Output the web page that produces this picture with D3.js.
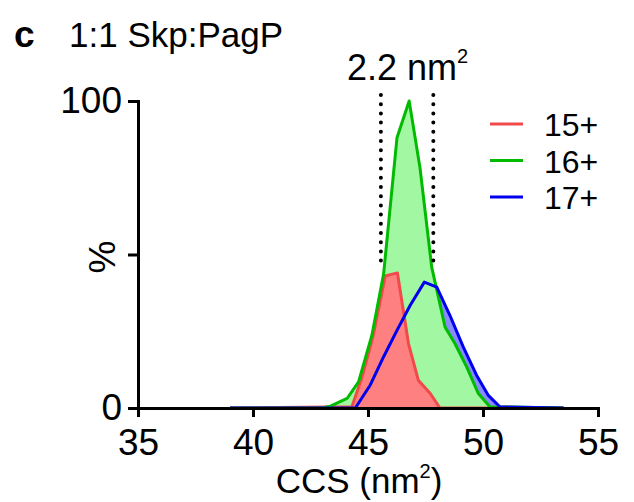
<!DOCTYPE html>
<html>
<head>
<meta charset="utf-8">
<script src="https://cdn.jsdelivr.net/npm/d3@7"></script>
<style>
  body { margin: 0; background: #fff; }
  svg text { font-family: "Liberation Sans", Arial, sans-serif; fill: #000; }
</style>
</head>
<body>
<div id="chart"></div>
<script>
// CCS distributions for each charge state (nm^2 vs % intensity)
const ccs15 = [39.0, 44.3, 44.74, 45.24, 45.75, 46.28, 46.76, 47.19, 47.7, 48.13, 53.5];
const pct15 = [0, 0.4, 10, 24, 43, 44, 21, 9, 4.8, 0, 0];

const ccs16 = [39.0, 43.0, 43.37, 44.09, 44.59, 45.17, 45.68, 46.26, 46.79, 47.26, 47.77, 48.35, 48.78, 49.29, 49.79, 50.3, 53.5];
const pct16 = [0, 0, 0.6, 3.1, 8.5, 23.7, 43.7, 88, 100, 78.3, 45.9, 26.4, 21, 13.4, 4.8, 0.4, 0];

const ccs17 = [39.0, 44.45, 45.1, 45.68, 46.26, 46.83, 47.45, 47.99, 48.56, 49.14, 49.72, 50.22, 50.73, 53.5];
const pct17 = [0, 0, 7.5, 16.7, 25.3, 33.4, 41, 39.4, 30.2, 19.9, 10.7, 4.2, 0.4, 0];

const seriesNames = ['15+', '16+', '17+'];
const lineColors = ['#f04a4a', '#00bb00', '#0000ee'];
const fillColors = ['#ff8080', '#a2f8a2', '#8a8aff'];

const xTicks = [35, 40, 45, 50, 55];
const yTicks = [0, 50, 100];
const yTickLabels = ['0', '', '100'];

// dotted markers around the 16+ peak
const widthMarks = [45.56, 47.84];

const W = 634, H = 502;
const svg = d3.select('#chart').append('svg')
    .attr('width', W)
    .attr('height', H);

const x = d3.scaleLinear().domain([35, 55]).range([138, 598]);
const y = d3.scaleLinear().domain([0, 100]).range([408, 101]);

const series = [
    { name: seriesNames[0], pts: ccs15.map((c, i) => [c, pct15[i]]) },
    { name: seriesNames[1], pts: ccs16.map((c, i) => [c, pct16[i]]) },
    { name: seriesNames[2], pts: ccs17.map((c, i) => [c, pct17[i]]) }
];

const area = d3.area().x(d => x(d[0])).y0(y(0)).y1(d => y(d[1]));
const line = d3.line().x(d => x(d[0])).y(d => y(d[1]));

// fills: blue at the bottom, red on top
[2, 1, 0].forEach(i => {
    svg.append('path')
        .attr('d', area(series[i].pts))
        .attr('fill', fillColors[i]);
});

[0, 1, 2].forEach(i => {
    svg.append('path')
        .attr('d', line(series[i].pts))
        .attr('fill', 'none')
        .attr('stroke', lineColors[i])
        .attr('stroke-width', 3)
        .attr('stroke-linejoin', 'round');
});

// dotted width lines
widthMarks.forEach(v => {
    svg.append('line')
        .attr('x1', x(v)).attr('x2', x(v))
        .attr('y1', 95).attr('y2', 268)
        .attr('stroke', '#000')
        .attr('stroke-width', 4)
        .attr('stroke-linecap', 'round')
        .attr('stroke-dasharray', '0 9.2');
});

// axes
const xAxis = svg.append('g')
    .attr('transform', `translate(0,${y(0)})`)
    .call(d3.axisBottom(x).tickValues(xTicks).tickSize(9).tickSizeOuter(0).tickPadding(12));
const yAxis = svg.append('g')
    .attr('transform', `translate(${x(35)},0)`)
    .call(d3.axisLeft(y).tickValues(yTicks).tickSize(10).tickSizeOuter(0).tickPadding(6)
        .tickFormat((d, i) => yTickLabels[i]));

[xAxis, yAxis].forEach(g => {
    g.select('.domain').attr('stroke-width', 3).attr('stroke-linecap', 'square');
    g.selectAll('.tick line').attr('stroke-width', 3);
    g.selectAll('text')
        .style('font-family', '"Liberation Sans", Arial, sans-serif')
        .style('font-size', '37px');
});

// axis titles
const xTitle = svg.append('text')
    .attr('x', 359).attr('y', 493)
    .attr('text-anchor', 'middle')
    .style('font-size', '35px');
xTitle.append('tspan').text('CCS (nm');
xTitle.append('tspan').attr('dy', -15).style('font-size', '20px').text('2');
xTitle.append('tspan').attr('dy', 15).text(')');

svg.append('text')
    .attr('transform', 'translate(115,257) rotate(-90)')
    .attr('text-anchor', 'middle')
    .style('font-size', '37px')
    .text('%');

// panel title
svg.append('text')
    .attr('x', 14).attr('y', 47)
    .style('font-size', '37px')
    .style('font-weight', 'bold')
    .text('c');
svg.append('text')
    .attr('x', 69).attr('y', 47)
    .style('font-size', '35px')
    .text('1:1 Skp:PagP');

// width annotation
const ann = svg.append('text')
    .attr('x', 347).attr('y', 80)
    .style('font-size', '36px');
ann.append('tspan').text('2.2 nm');
ann.append('tspan').attr('dy', -17).style('font-size', '20px').text('2');

// legend
seriesNames.forEach((name, i) => {
    const ly = 124 + i * 36.5;
    svg.append('line')
        .attr('x1', 490).attr('x2', 523)
        .attr('y1', ly).attr('y2', ly)
        .attr('stroke', lineColors[i])
        .attr('stroke-width', 3);
    svg.append('text')
        .attr('x', 544).attr('y', ly + 12)
        .style('font-size', '32px')
        .text(name);
});
</script>
</body>
</html>
